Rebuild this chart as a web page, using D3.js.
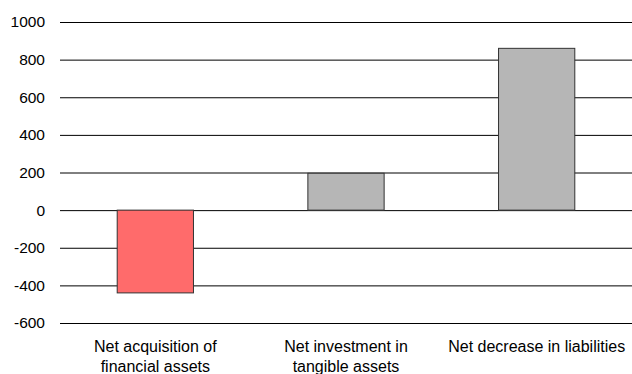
<!DOCTYPE html>
<html>
<head>
<meta charset="utf-8">
<script src="https://cdn.jsdelivr.net/npm/d3@7"></script>
<style>
  html, body { margin: 0; padding: 0; background: #fff; }
  svg { display: block; font-family: "Liberation Sans", Arial, sans-serif; }
</style>
</head>
<body>
<svg id="chart" width="632" height="374"></svg>
<script>
// Sources of funds, by component
const categories = [
  ["Net acquisition of", "financial assets"],
  ["Net investment in", "tangible assets"],
  ["Net decrease in liabilities"]
];
const values = [-440, 196, 860];
const barColors = ["#ff6b6b", "#b6b6b6", "#b6b6b6"];
const yTicks = [-600, -400, -200, 0, 200, 400, 600, 800, 1000];

const width = 632, height = 374;
const margin = { top: 22, right: 0, bottom: 51, left: 60 };

const svg = d3.select("#chart");

const x = d3.scaleBand()
  .domain(d3.range(values.length))
  .range([margin.left, width - margin.right])
  .paddingInner(0.6)
  .paddingOuter(0.3);

const y = d3.scaleLinear()
  .domain([-600, 1000])
  .range([height - margin.bottom, margin.top]);

// Horizontal gridlines with value labels on the left (plain hyphen for negatives)
const yAxis = d3.axisLeft(y)
  .tickValues(yTicks)
  .tickSize(-(width - margin.left - margin.right))
  .tickPadding(15)
  .tickFormat(d => String(d));

const yg = svg.append("g")
  .attr("transform", `translate(${margin.left},0)`)
  .call(yAxis);
yg.select(".domain").remove();
yg.selectAll(".tick line").attr("stroke", "#000").attr("stroke-width", 1);
yg.selectAll(".tick text")
  .attr("fill", "#000")
  .attr("font-size", 15.5)
  .attr("font-family", "'Liberation Sans', Arial, sans-serif");

// Bars from zero to each value
svg.append("g")
  .selectAll("rect")
  .data(values)
  .join("rect")
  .attr("x", (d, i) => x(i))
  .attr("width", x.bandwidth())
  .attr("y", d => y(Math.max(0, d)))
  .attr("height", d => Math.abs(y(d) - y(0)))
  .attr("fill", (d, i) => barColors[i])
  .attr("stroke", "#333")
  .attr("stroke-width", 1);

// Category labels, wrapped onto two lines where needed
const labels = svg.append("g")
  .selectAll("text")
  .data(categories)
  .join("text")
  .attr("x", (d, i) => x(i) + x.bandwidth() / 2)
  .attr("y", 352)
  .attr("text-anchor", "middle")
  .attr("font-size", 16)
  .attr("fill", "#000");

labels.selectAll("tspan")
  .data(d => d)
  .join("tspan")
  .attr("x", function () { return d3.select(this.parentNode).attr("x"); })
  .attr("dy", (d, i) => i === 0 ? 0 : 19.5)
  .text(d => d);
</script>
</body>
</html>
